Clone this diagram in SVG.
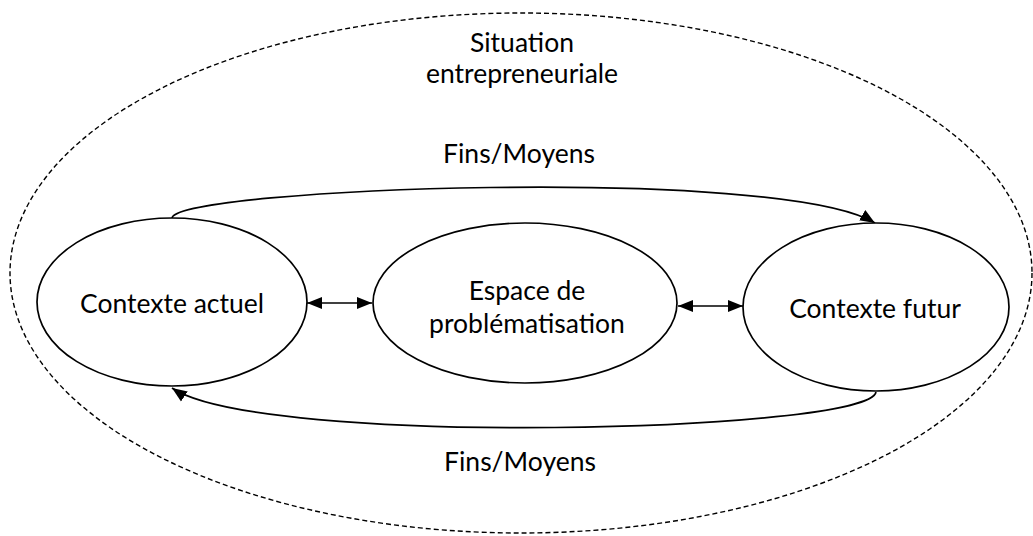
<svg xmlns="http://www.w3.org/2000/svg" width="1033" height="536" viewBox="0 0 1033 536">
<style>
.node{fill:#fff;stroke:#000;stroke-width:1.7}
.outer{fill:none;stroke:#000;stroke-width:1.4;stroke-dasharray:5 3}
.conn{fill:none;stroke:#000;stroke-width:1.7}
text{font-family:Lato,"Open Sans",sans-serif;font-size:26.5px;fill:#000;text-anchor:middle}
</style>
<defs>
<marker id="ah" markerUnits="userSpaceOnUse" markerWidth="16" markerHeight="14" refX="15" refY="7" orient="auto-start-reverse" viewBox="0 0 16 14">
<path d="M0,1 L15,7 L0,13 z" fill="#000"/>
</marker>
</defs>
<g id="situation">
<ellipse class="outer" cx="521" cy="273" rx="511" ry="260"/>
<text x="522" y="52">Situation</text>
<text x="522" y="83">entrepreneuriale</text>
</g>
<g id="connectors">
<path class="conn" d="M172,218 C178,188 780,165 875,223" marker-end="url(#ah)"/>
<path class="conn" d="M876,392 C870,432 260,448 172,388" marker-end="url(#ah)"/>
<line class="conn" x1="307" y1="303" x2="372" y2="303" marker-start="url(#ah)" marker-end="url(#ah)"/>
<line class="conn" x1="678" y1="306" x2="743" y2="306" marker-start="url(#ah)" marker-end="url(#ah)"/>
<text x="519" y="163">Fins/Moyens</text>
<text x="520" y="471">Fins/Moyens</text>
</g>
<g id="contexte-actuel">
<ellipse class="node" cx="172" cy="302" rx="135" ry="84"/>
<text x="172" y="313">Contexte actuel</text>
</g>
<g id="espace">
<ellipse class="node" cx="525" cy="303" rx="152" ry="80"/>
<text x="527" y="300">Espace de</text>
<text x="527" y="333">problématisation</text>
</g>
<g id="contexte-futur">
<ellipse class="node" cx="876" cy="307" rx="133" ry="84"/>
<text x="875" y="318">Contexte futur</text>
</g>
</svg>
